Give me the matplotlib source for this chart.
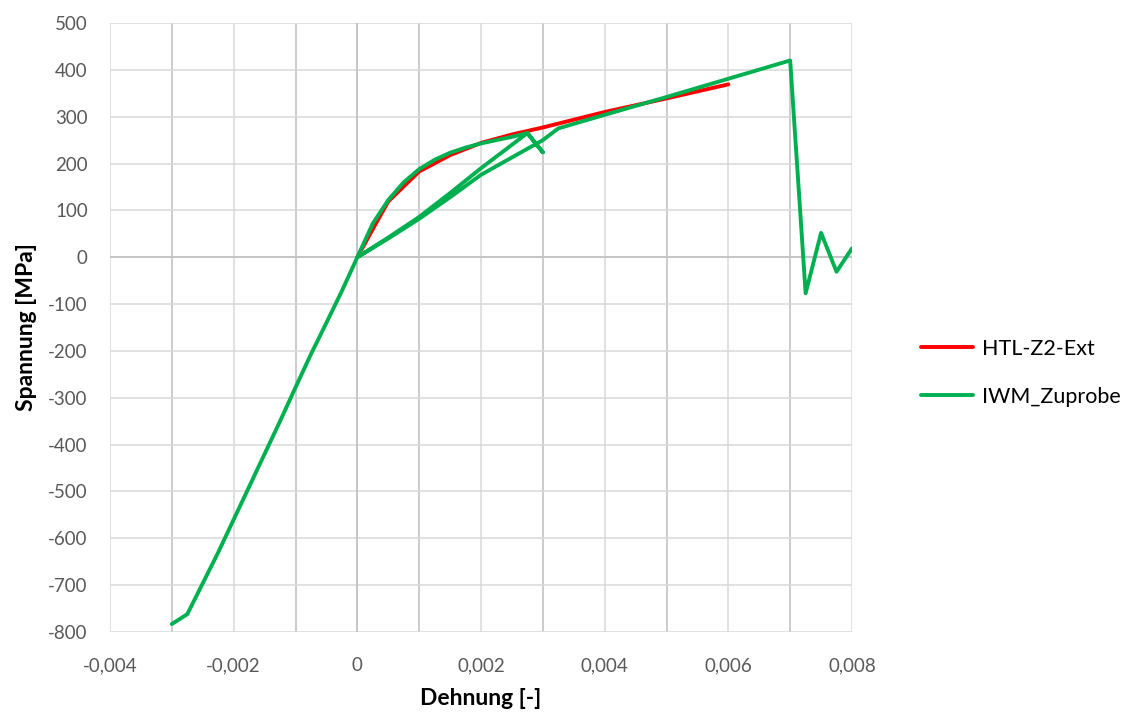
import matplotlib.pyplot as plt
from matplotlib.ticker import FuncFormatter, MultipleLocator

plt.rcParams['font.family'] = ['Lato', 'DejaVu Sans']

# HTL-Z2-Ext (Dehnung, Spannung)
htl_x = [0, 0.00025, 0.0005, 0.001, 0.0015, 0.002, 0.0025, 0.003, 0.004, 0.005, 0.006]
htl_y = [0, 60, 119, 183, 218, 244, 262, 277, 310, 339, 369]

# IWM_Zuprobe (Dehnung, Spannung) in Messreihenfolge
iwm_x = [-0.003, -0.00275, -0.0025, -0.00225, -0.002, -0.00175, -0.0015, -0.00125,
         -0.001, -0.00075, -0.0005, -0.00025, 0,
         0.00025, 0.0005, 0.00075, 0.001, 0.00125, 0.0015, 0.00175, 0.002, 0.0025, 0.00275,
         0.003, 0.00275,
         0.0025, 0.002, 0.0015, 0.001, 0.0005, 0,
         0.0005, 0.001, 0.0015, 0.002, 0.0025, 0.003, 0.00325,
         0.004, 0.005, 0.006, 0.007,
         0.00725, 0.0075, 0.00775, 0.008]
iwm_y = [-783, -762, -696, -630, -560, -490, -420, -350,
         -278, -207, -140, -72, 0,
         72, 122, 160, 188, 208, 223, 234, 243, 257, 265,
         224, 265,
         240, 190, 137, 86, 42, 0,
         40, 82, 128, 176, 213, 250, 275,
         304, 342, 381, 420,
         -77, 52, -31, 19]

x_min, x_max = -0.004, 0.008
y_min, y_max = -800, 500

fig = plt.figure(figsize=(11.44, 7.18), dpi=100)
ax = fig.add_axes([110 / 1144, 1 - 632 / 718, 742 / 1144, 609 / 718])

# Gitternetz wie in Excel: Haupt- hell, Neben- etwas dunkler
ax.xaxis.set_major_locator(MultipleLocator(0.002))
ax.xaxis.set_minor_locator(MultipleLocator(0.001))
ax.yaxis.set_major_locator(MultipleLocator(100))
ax.grid(which='major', axis='both', color='#d9d9d9', lw=1.1)
ax.grid(which='minor', axis='x', color='#bfbfbf', lw=1.1)
ax.axhline(0, color='#bfbfbf', lw=1.1, zorder=1)
ax.axvline(0, color='#bfbfbf', lw=1.1, zorder=1)
ax.set_axisbelow(True)

ax.plot(htl_x, htl_y, color='#ff0000', lw=2.8, label='HTL-Z2-Ext',
        solid_joinstyle='round', solid_capstyle='round', zorder=3)
ax.plot(iwm_x, iwm_y, color='#00b050', lw=2.8, label='IWM_Zuprobe',
        solid_joinstyle='round', solid_capstyle='round', zorder=4)

ax.set_xlim(x_min, x_max)
ax.set_ylim(y_min, y_max)

for s in ax.spines.values():
    s.set_visible(False)

def komma(v, pos):
    if abs(v) < 1e-12:
        return '0'
    return ('%g' % round(v, 6)).replace('.', ',')

ax.xaxis.set_major_formatter(FuncFormatter(komma))
ax.yaxis.set_major_formatter(FuncFormatter(lambda v, p: '%d' % round(v)))
ax.tick_params(which='both', length=0, labelsize=13.5, labelcolor='#595959')
ax.tick_params(axis='x', pad=18)
ax.tick_params(axis='y', pad=16)

ax.set_xlabel('Dehnung [-]', fontsize=16.5, fontweight='bold', labelpad=10)
ax.set_ylabel('Spannung [MPa]', fontsize=16.5, fontweight='bold', labelpad=8)

fig.legend(loc='center left', bbox_to_anchor=(902 / 1144, 1 - 373 / 718),
           frameon=False, fontsize=15.5, handlelength=2.4, labelspacing=1.3,
           handletextpad=0.4)

fig.savefig('out.png', dpi=100)
